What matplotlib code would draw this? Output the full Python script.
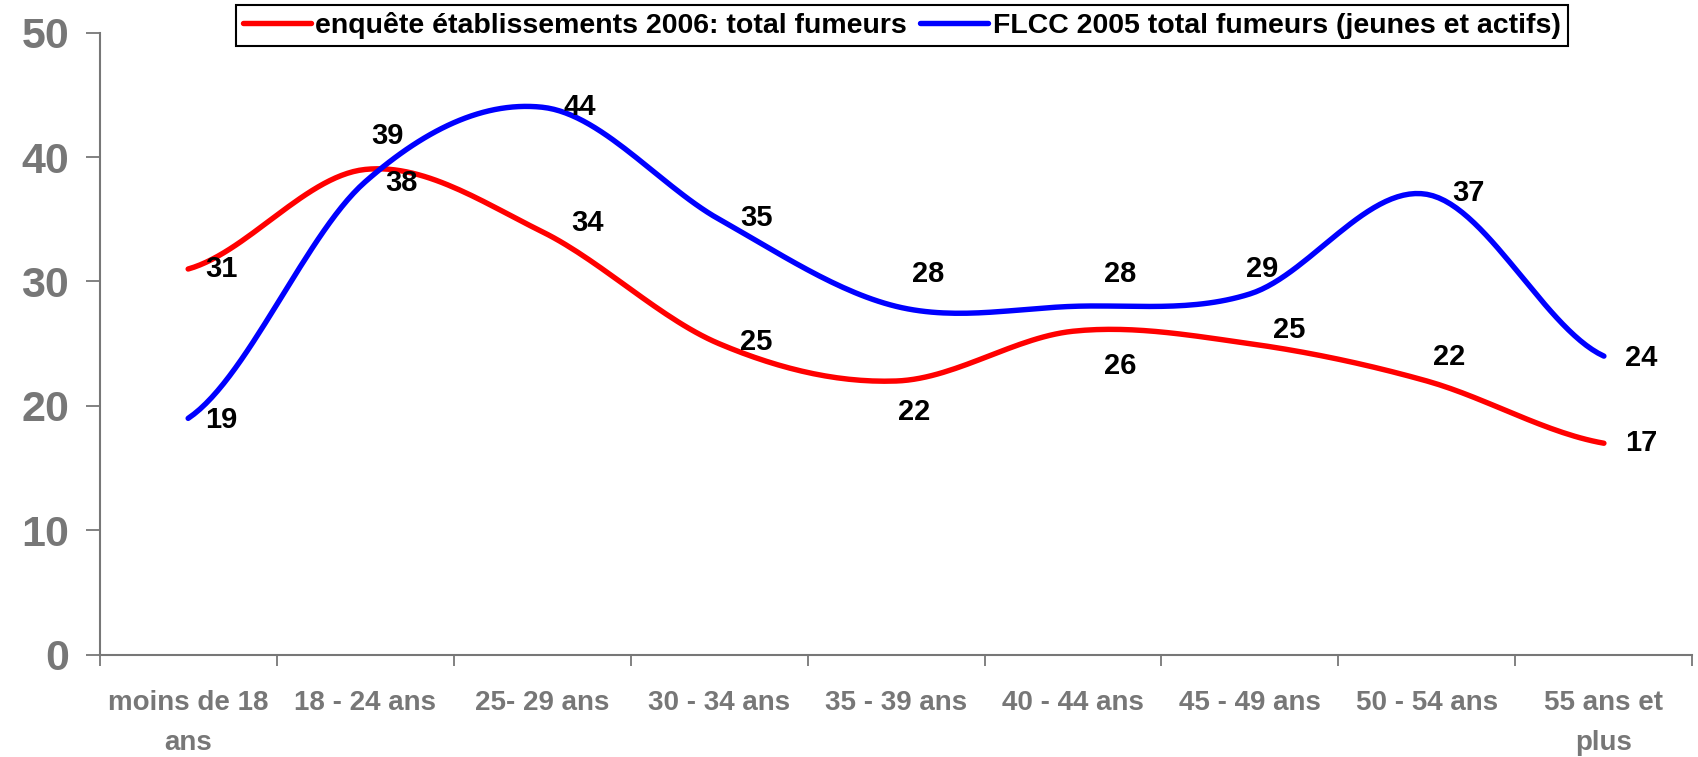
import numpy as np
import matplotlib.pyplot as plt
from matplotlib import font_manager

# Chart data
categories = ["moins de 18\nans", "18 - 24 ans", "25- 29 ans", "30 - 34 ans", "35 - 39 ans",
              "40 - 44 ans", "45 - 49 ans", "50 - 54 ans", "55 ans et\nplus"]
enquete_2006 = [31, 39, 34, 25, 22, 26, 25, 22, 17]
flcc_2005 = [19, 38, 44, 35, 28, 28, 29, 37, 24]
series_names = ["enquête établissements 2006: total fumeurs",
                "FLCC 2005 total fumeurs (jeunes et actifs)"]

# label offsets (points) for the value labels, one per point
red_offsets = [(24, 0), (16, 24), (33, 6), (27, 1), (13, -22), (34, -25), (28, 10), (16, 17), (27, 0)]
blue_offsets = [(24, -1), (26, -1), (27, 0), (27, 1), (23, 23), (34, 23), (9, 18), (30, 1), (27, -1)]

GREY = "#777777"
MAIN = ["Liberation Sans", "DejaVu Sans"]
names = {f.name for f in font_manager.fontManager.ttflist}
NARROW = ["Liberation Sans Narrow"] if "Liberation Sans Narrow" in names else MAIN


# Excel-like smoothing: Catmull-Rom through the points
def smooth(xs, ys, n=30):
    xs = np.asarray(xs, float)
    ys = np.asarray(ys, float)
    px = np.concatenate([[2 * xs[0] - xs[1]], xs, [2 * xs[-1] - xs[-2]]])
    py = np.concatenate([[ys[0]], ys, [ys[-1]]])
    out_x, out_y = [], []
    for i in range(1, len(px) - 2):
        t = np.linspace(0, 1, n, endpoint=False)
        for p, out in ((px, out_x), (py, out_y)):
            p0, p1, p2, p3 = p[i - 1], p[i], p[i + 1], p[i + 2]
            c1 = p1 + (p2 - p0) / 6
            c2 = p2 - (p3 - p1) / 6
            out.extend((1 - t) ** 3 * p1 + 3 * (1 - t) ** 2 * t * c1
                       + 3 * (1 - t) * t ** 2 * c2 + t ** 3 * p2)
    out_x.append(xs[-1])
    out_y.append(ys[-1])
    return np.array(out_x), np.array(out_y)


fig = plt.figure(figsize=(16.98, 7.57), dpi=100)
ax = fig.add_axes([0.0587, 0.135, 0.938, 0.822])

x = np.arange(len(categories))
lines = []
for vals, color, offs in ((enquete_2006, "#FF0000", red_offsets), (flcc_2005, "#0000FF", blue_offsets)):
    sx, sy = smooth(x, vals)
    ln, = ax.plot(sx, sy, color=color, lw=3.9, solid_capstyle="round")
    lines.append(ln)
    for xi, v, (dx, dy) in zip(x, vals, offs):
        ax.annotate(str(v), (xi, v), xytext=(dx, dy), textcoords="offset points",
                    ha="center", va="center", fontsize=21, fontweight="bold",
                    family=MAIN, color="black")

ax.set_xlim(-0.5, len(categories) - 0.5)
ax.set_ylim(0, 50)
ax.set_yticks(range(0, 51, 10))
ax.set_yticklabels([str(v) for v in range(0, 51, 10)], fontsize=31, fontweight="bold",
                   family=MAIN, color=GREY)
ax.set_xticks(x)
ax.set_xticklabels(categories, fontsize=20, fontweight="bold", family=NARROW, color=GREY,
                   linespacing=1.7)
ax.set_xticks(np.arange(-0.5, len(categories)), minor=True)
ax.tick_params(axis="x", which="major", length=0, pad=25)
ax.tick_params(axis="x", which="minor", length=8, width=1.3, color=GREY, direction="out")
ax.tick_params(axis="y", length=10, width=1.3, color=GREY, direction="out", pad=12)

for s in ("top", "right"):
    ax.spines[s].set_visible(False)
for s in ("left", "bottom"):
    ax.spines[s].set_color(GREY)
    ax.spines[s].set_linewidth(1.5)

leg = fig.legend(lines, series_names, loc="center", bbox_to_anchor=(0.531, 0.966), ncol=2,
                 frameon=True, fancybox=False, edgecolor="black", framealpha=1,
                 prop={"family": MAIN, "weight": "bold", "size": 20.5},
                 handlelength=2.4, handletextpad=0.15, columnspacing=0.45,
                 borderpad=0.25, borderaxespad=0)
leg.get_frame().set_linewidth(1.5)

fig.savefig("out.png", dpi=100)
